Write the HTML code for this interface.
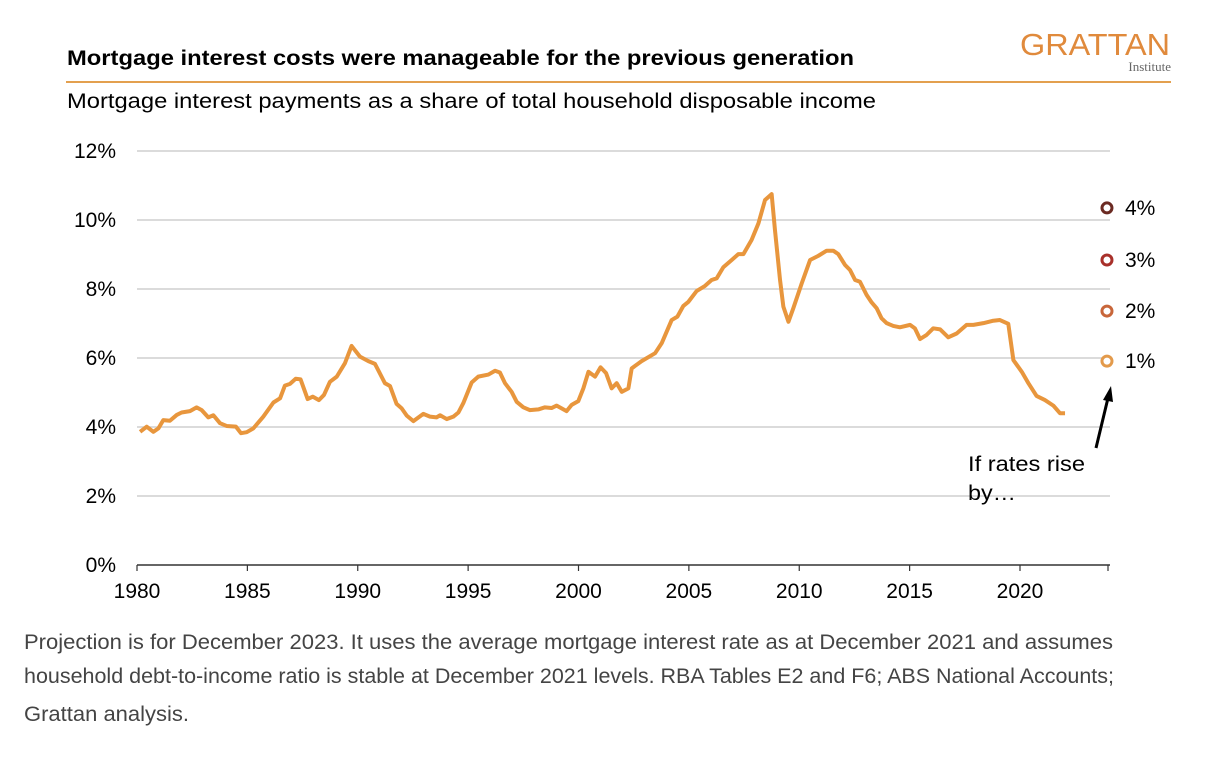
<!DOCTYPE html>
<html><head><meta charset="utf-8"><style>
body{margin:0;background:#fff;width:1226px;height:754px;overflow:hidden;font-family:"Liberation Sans",Arial,sans-serif}
</style></head><body>
<svg width="1226" height="754" viewBox="0 0 1226 754" id="svg">
<text x="67" y="65" font-size="21" font-weight="bold" fill="#000" textLength="787" lengthAdjust="spacingAndGlyphs">Mortgage interest costs were manageable for the previous generation</text>
<g>
<text x="1020" y="55" font-size="31" fill="#e08a3c" textLength="150" lengthAdjust="spacingAndGlyphs">GRATTAN</text>
<text x="1171" y="71" font-size="13" fill="#666" text-anchor="end" font-family="Liberation Serif,serif">Institute</text>
</g>
<line x1="66" y1="82" x2="1171" y2="82" stroke="#e3a04f" stroke-width="2"/>
<text x="67" y="108" font-size="21" fill="#000" textLength="809" lengthAdjust="spacingAndGlyphs">Mortgage interest payments as a share of total household disposable income</text>
<g id="grid"></g><g id="yt"></g><g id="xt"></g><g id="series"></g><g id="proj"></g>
<g>
<text x="968" y="471" font-size="21" fill="#000" textLength="117" lengthAdjust="spacingAndGlyphs">If rates rise</text>
<text x="968" y="500" font-size="21" fill="#000" textLength="48" lengthAdjust="spacingAndGlyphs">by…</text>
<line x1="1096" y1="448" x2="1108" y2="398" stroke="#000" stroke-width="3"/>
<polygon points="1111,386 1103,400 1113,402" fill="#000"/>
</g>
<g font-size="21" fill="#444">
<text x="24" y="649" textLength="1089" lengthAdjust="spacingAndGlyphs">Projection is for December 2023. It uses the average mortgage interest rate as at December 2021 and assumes</text>
<text x="24" y="683" textLength="1090" lengthAdjust="spacingAndGlyphs">household debt-to-income ratio is stable at December 2021 levels. RBA Tables E2 and F6; ABS National Accounts;</text>
<text x="24" y="721" textLength="165" lengthAdjust="spacingAndGlyphs">Grattan analysis.</text>
</g>
</svg>
<script>
const years=[1980.14,1980.44,1980.74,1980.97,1981.19,1981.49,1981.8,1982.02,1982.4,1982.7,1982.93,1983.23,1983.46,1983.76,1984.06,1984.48,1984.71,1984.97,1985.27,1985.72,1986.18,1986.48,1986.7,1986.93,1987.19,1987.41,1987.73,1987.96,1988.24,1988.47,1988.74,1989.05,1989.42,1989.72,1990.1,1990.48,1990.78,1991.23,1991.46,1991.76,1991.99,1992.22,1992.52,1992.97,1993.27,1993.57,1993.73,1994.03,1994.33,1994.56,1994.78,1995.16,1995.46,1995.92,1996.22,1996.44,1996.67,1996.97,1997.2,1997.5,1997.8,1998.18,1998.48,1998.78,1999.01,1999.46,1999.69,1999.99,2000.22,2000.45,2000.75,2001.0,2001.25,2001.5,2001.73,2001.96,2002.26,2002.41,2002.86,2003.47,2003.77,2004.22,2004.48,2004.75,2004.98,2005.35,2005.73,2006.03,2006.26,2006.56,2006.94,2007.24,2007.47,2007.84,2008.15,2008.45,2008.75,2008.9,2009.13,2009.28,2009.51,2009.73,2010.11,2010.49,2010.86,2011.24,2011.54,2011.77,2012.07,2012.3,2012.53,2012.75,2013.05,2013.28,2013.51,2013.73,2013.96,2014.26,2014.56,2015.02,2015.24,2015.47,2015.77,2016.07,2016.38,2016.75,2017.13,2017.58,2017.89,2018.34,2018.79,2019.09,2019.47,2019.7,2020.08,2020.38,2020.75,2021.13,2021.51,2021.81,2022.04];
const values=[3.86,4.01,3.86,3.96,4.2,4.18,4.35,4.42,4.46,4.57,4.49,4.28,4.34,4.11,4.03,4.01,3.82,3.85,3.96,4.3,4.71,4.83,5.2,5.25,5.4,5.38,4.81,4.88,4.78,4.93,5.31,5.46,5.85,6.35,6.04,5.91,5.83,5.27,5.19,4.67,4.54,4.33,4.17,4.38,4.3,4.28,4.34,4.23,4.3,4.42,4.69,5.29,5.46,5.52,5.63,5.58,5.27,5.02,4.73,4.57,4.49,4.51,4.57,4.55,4.62,4.46,4.64,4.75,5.12,5.6,5.46,5.73,5.56,5.12,5.27,5.02,5.12,5.7,5.91,6.14,6.43,7.1,7.2,7.51,7.63,7.94,8.09,8.26,8.31,8.63,8.84,9.01,9.01,9.42,9.9,10.58,10.75,9.71,8.26,7.49,7.05,7.44,8.16,8.84,8.96,9.11,9.11,9.01,8.7,8.55,8.26,8.21,7.83,7.61,7.44,7.15,7.01,6.93,6.89,6.96,6.86,6.55,6.67,6.86,6.83,6.6,6.71,6.96,6.96,7.01,7.08,7.1,6.99,5.94,5.6,5.27,4.9,4.78,4.62,4.4,4.4];
const projYear=2023.94;
const projValues=[5.91,7.36,8.84,10.35];
const projLabels=["1%","2%","3%","4%"];
const projColors=["#e39a4b","#c8663a","#a8302a","#6b2a22"];
const yTicks=[0,2,4,6,8,10,12];
const xTicks=[1980,1985,1990,1995,2000,2005,2010,2015,2020];
const NS="http://www.w3.org/2000/svg";
const X=y=>137+(y-1980)*22.075, Y=v=>565-v*34.5;
function mk(t,a,p){const e=document.createElementNS(NS,t);for(const k in a)e.setAttribute(k,a[k]);p.appendChild(e);return e;}
const g=document.getElementById('grid'),yt=document.getElementById('yt'),xt=document.getElementById('xt');
yTicks.forEach(v=>{
 if(v>0){const l=mk('line',{x1:137,x2:1110,y1:Y(v),y2:Y(v),stroke:'#cfcfcf','stroke-width':1.5},g);
 
 }
 const t=mk('text',{x:116,y:Y(v)+7,'font-size':21,'text-anchor':'end',fill:'#000'},yt);t.textContent=v+'%';
 
 
});
const ax=mk('line',{x1:137,x2:1110,y1:565,y2:565,stroke:'#333','stroke-width':1.5},g);


xTicks.forEach(y=>{
 const tk=mk('line',{x1:X(y),x2:X(y),y1:565,y2:571,stroke:'#333','stroke-width':1.2},xt);
 
 
 const t=mk('text',{x:X(y),y:598,'font-size':21,'text-anchor':'middle',fill:'#000'},xt);t.textContent=y;
 
 
});
const tk2=mk('line',{x1:1108,x2:1108,y1:565,y2:571,stroke:'#333','stroke-width':1.2},xt);


const pl=mk('polyline',{points:years.map((y,i)=>X(y)+','+Y(values[i])).join(' '),fill:'none',stroke:'#e8963d','stroke-width':4,'stroke-linejoin':'round'},document.getElementById('series'));


const pg=document.getElementById('proj');
projValues.forEach((v,i)=>{
 const c=mk('circle',{cx:X(projYear),cy:Y(v),r:5,fill:'#fff',stroke:projColors[i],'stroke-width':3},pg);
 
 
 const t=mk('text',{x:X(projYear)+18,y:Y(v)+7,'font-size':21,fill:'#000'},pg);t.textContent=projLabels[i];
 
 
});
</script>
</body></html>
